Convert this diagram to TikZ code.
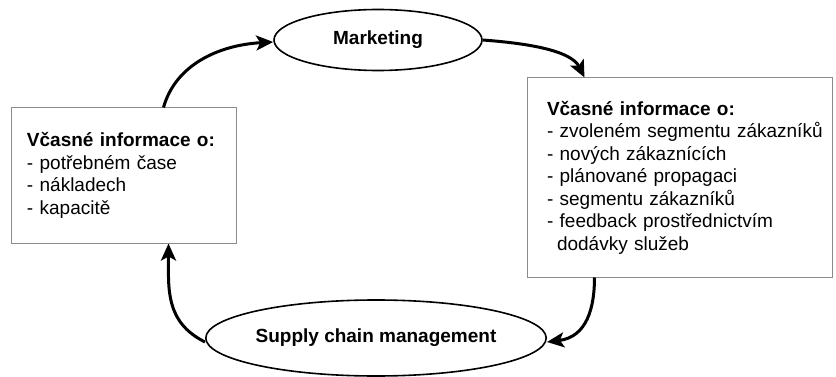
\documentclass[tikz,border=0pt]{standalone}
\usepackage{fontspec}
\setmainfont{Liberation Sans}
\usetikzlibrary{arrows.meta,shapes.geometric}
\begin{document}
\begin{tikzpicture}[x=1pt,y=-1pt,
  font=\fontsize{19}{22.5}\selectfont,
  infobox/.style={draw=black!45, line width=1pt, rectangle, align=left, inner ysep=0pt},
  oval/.style={draw, ellipse, line width=1.6pt, inner sep=0pt, font=\fontsize{19}{22.5}\selectfont\bfseries},
  flow/.style={line width=3pt, -{Stealth[length=17pt 0 0,width=15pt 0 0,inset=4pt 0]}}
]
\useasboundingbox (0,0) rectangle (836,377);
\node[oval, minimum width=208pt, minimum height=61pt] (mk) at (378,40) {Marketing};
\node[oval, minimum width=284pt, minimum height=76pt] (sc) at (376,338) {Supply chain management};
\node[infobox, inner xsep=16pt, text width=193pt, minimum height=135pt] (lb) at (123.5,175.5)
  {\textbf{Včasné informace o:}\\- potřebném čase\\- nákladech\\- kapacitě};
\node[infobox, inner xsep=20pt, text width=265pt, minimum height=199pt] (rb) at (679.5,177.5)
  {\textbf{Včasné informace o:}\\\mbox{- zvoleném segmentu zákazníků}\\- nových zákaznících\\- plánované propagaci\\- segmentu zákazníků\\- feedback prostřednictvím\\\hspace*{10pt}dodávky služeb};
\draw[flow] ([xshift=40pt]lb.north) .. controls +(12,-43) and +(-54,3) .. ([yshift=-2pt]mk.west);
\draw[flow] (mk.east) .. controls +(40,3) and +(-14,-28) .. ([xshift=-95pt]rb.north);
\draw[flow] ([xshift=-85pt]rb.south) .. controls +(0,30) and +(40,-5) .. ([yshift=-4pt]sc.east);
\draw[flow] ([yshift=-4pt]sc.west) .. controls +(-40,-20) and +(0,45) .. ([xshift=45pt]lb.south);
\end{tikzpicture}
\end{document}
